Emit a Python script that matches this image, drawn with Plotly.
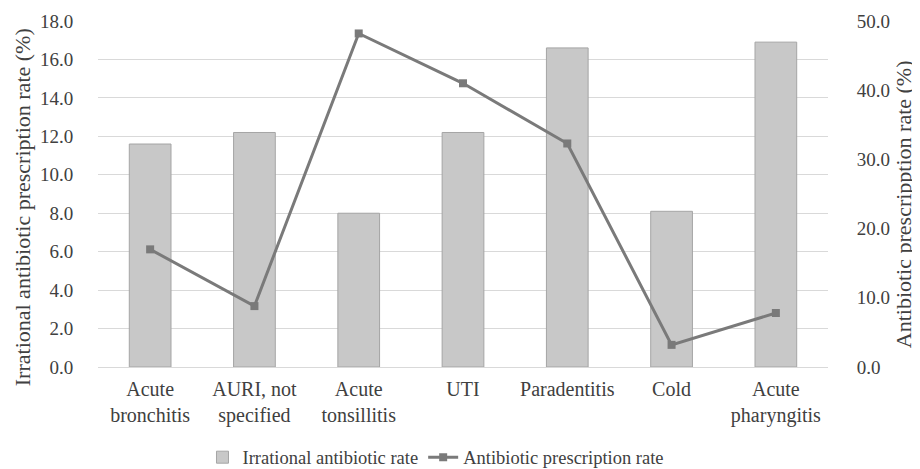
import plotly.graph_objects as go

categories = ["Acute<br>bronchitis", "AURI, not<br>specified", "Acute<br>tonsillitis", "UTI",
              "Paradentitis", "Cold", "Acute<br>pharyngitis"]
irrational_rate = [11.6, 12.2, 8.0, 12.2, 16.6, 8.1, 16.9]
prescription_rate = [17.0, 8.8, 48.2, 41.0, 32.3, 3.2, 7.8]

left_title = "Irrational antibiotic prescription rate (%)"
right_title = "Antibiotic prescripption rate (%)"

font_family = "Times New Roman, Liberation Serif, serif"
text_color = "#404040"

fig = go.Figure()
fig.add_trace(go.Bar(
    x=categories, y=irrational_rate, name="Irrational antibiotic rate",
    marker=dict(color="#c8c8c8", line=dict(color="#a5a5a5", width=1)),
    yaxis="y",
))
fig.add_trace(go.Scatter(
    x=categories, y=prescription_rate, name="Antibiotic prescription rate",
    mode="lines+markers",
    line=dict(color="#7a7a7a", width=3),
    marker=dict(symbol="square", size=8, color="#7a7a7a"),
    yaxis="y2",
))

fig.update_layout(
    width=912, height=461,
    margin=dict(l=90, r=92, t=13, b=102, autoexpand=False),
    paper_bgcolor="white", plot_bgcolor="white",
    font=dict(family=font_family, size=19, color=text_color),
    bargap=0.6,
    showlegend=True,
    legend=dict(orientation="h", x=0.463, xanchor="center", y=-0.262, yanchor="middle",
                font=dict(size=18.5, color=text_color), tracegroupgap=0),
    xaxis=dict(showgrid=False, showline=True, linecolor="#d9d9d9", linewidth=1,
               tickfont=dict(size=20), ticks="outside", ticklen=4,
               tickcolor="rgba(0,0,0,0)", automargin=False),
    yaxis=dict(range=[0, 18], dtick=2, tickformat=".1f", showgrid=True,
               gridcolor="#d9d9d9", gridwidth=1, zeroline=False, showline=False,
               ticks="outside", ticklen=20, tickcolor="rgba(0,0,0,0)", automargin=False,
               tickfont=dict(size=19)),
    yaxis2=dict(range=[0, 50], dtick=10, tickformat=".1f", overlaying="y", side="right",
                showgrid=False, zeroline=False, showline=False,
                ticks="outside", ticklen=24, tickcolor="rgba(0,0,0,0)", automargin=False,
                tickfont=dict(size=19)),
    annotations=[
        dict(text=left_title, xref="paper", yref="paper", x=-0.104, y=0.462,
             xanchor="center", yanchor="middle", textangle=-90, showarrow=False,
             font=dict(size=22, color=text_color)),
        dict(text=right_title, xref="paper", yref="paper", x=1.103, y=0.471,
             xanchor="center", yanchor="middle", textangle=-90, showarrow=False,
             font=dict(size=22, color=text_color)),
    ],
)

fig.write_html("out.html")
